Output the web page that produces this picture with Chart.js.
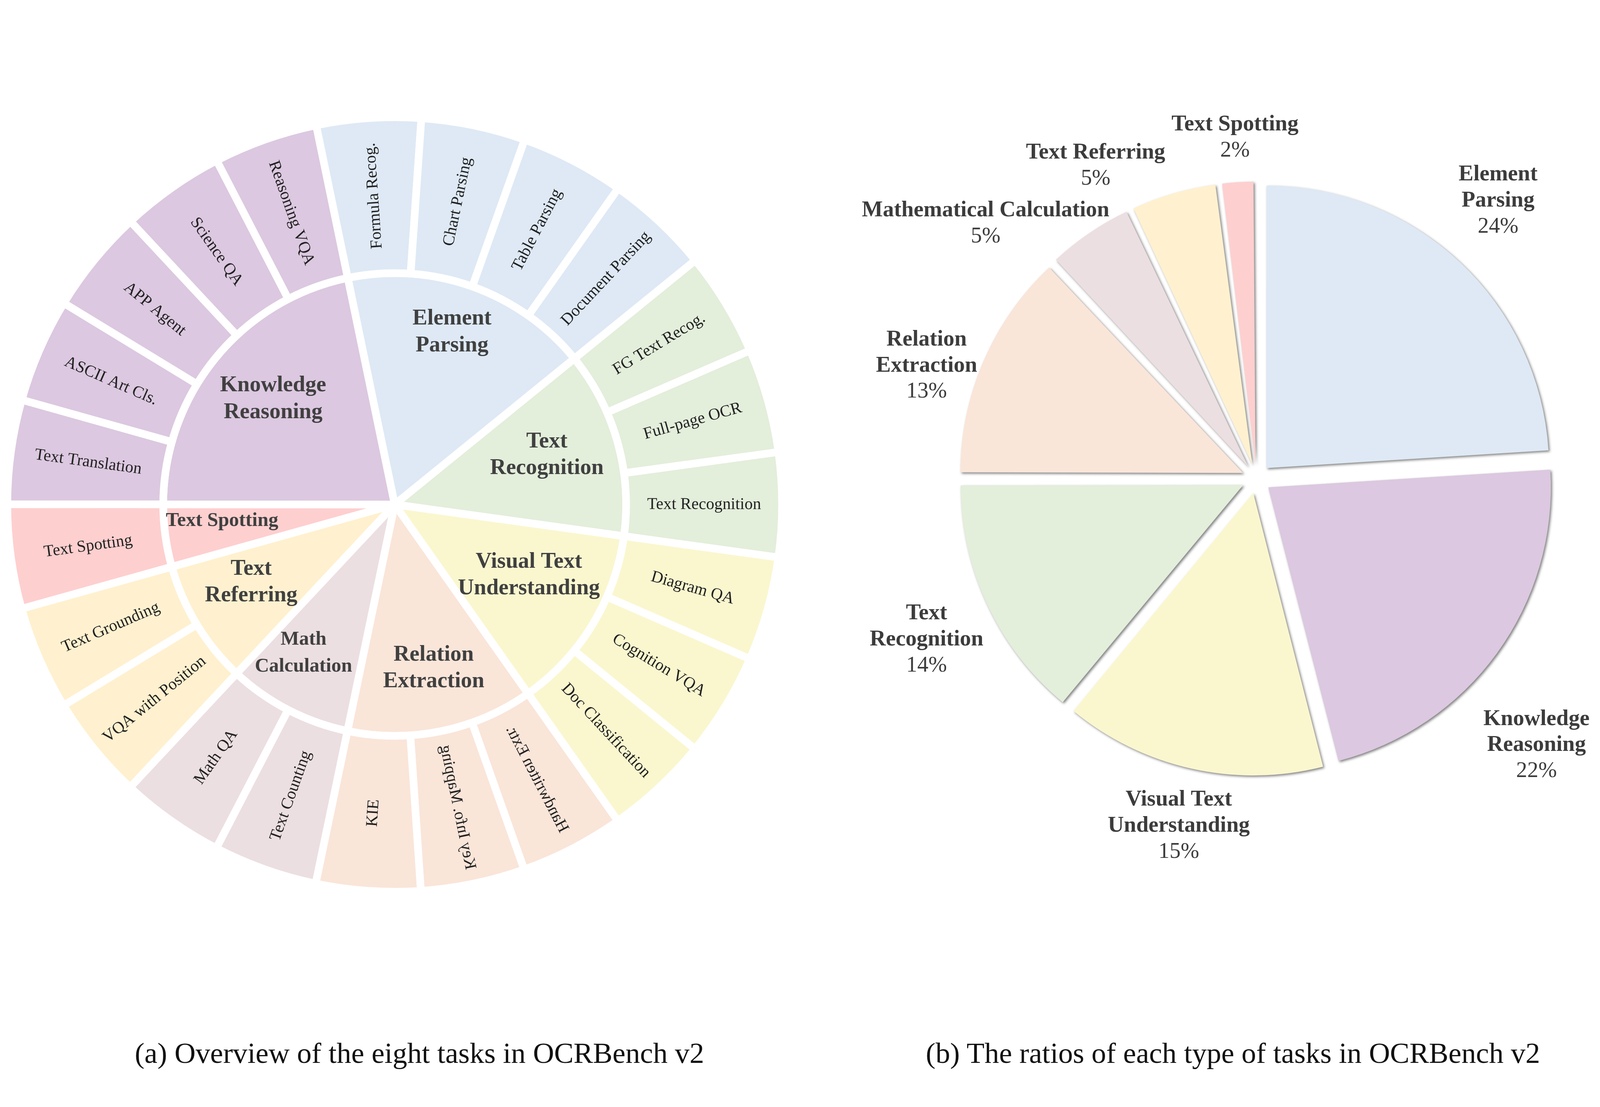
<!DOCTYPE html>
<html>
<head>
<meta charset="utf-8">
<script src="https://cdn.jsdelivr.net/npm/chart.js@4.4.1/dist/chart.umd.min.js"></script>
<style>
  html, body { margin: 0; padding: 0; background: #fff; overflow: hidden; }
  canvas { position: absolute; left: 0; top: 0; }
  .caption {
    position: absolute; line-height: 1;
    font-family: 'Liberation Serif', 'Times New Roman', serif;
    color: #111; white-space: nowrap; transform: translateX(-50%);
  }
</style>
</head>
<body>
<canvas id="sunburst"></canvas>
<canvas id="ratios"></canvas>
<div class="caption" id="capA">(a) Overview of the eight tasks in OCRBench v2</div>
<div class="caption" id="capB">(b) The ratios of each type of tasks in OCRBench v2</div>
<script>
// (a) sunburst: eight tasks, inner ring, and their subtasks, outer ring
const taskLabels = [['Element', 'Parsing'], ['Text', 'Recognition'], ['Visual Text', 'Understanding'],
    ['Relation', 'Extraction'], ['Math', 'Calculation'], ['Text', 'Referring'], ['Text Spotting'],
    ['Knowledge', 'Reasoning']];
const taskValues = [4, 3, 3, 3, 2, 2, 1, 5];
const taskColors = ['#dee9f5', '#e3eedb', '#faf7cf', '#fae5d9', '#ecdfe1', '#fff1cf', '#fecfcf', '#dcc8e0'];

const subtaskLabels = ['Formula Recog.', 'Chart Parsing', 'Table Parsing', 'Document Parsing',
    'FG Text Recog.', 'Full-page OCR', 'Text Recognition',
    'Diagram QA', 'Cognition VQA', 'Doc Classification',
    'Handwritten Extr.', 'Key Info. Mapping', 'KIE',
    'Text Counting', 'Math QA',
    'VQA with Position', 'Text Grounding',
    'Text Spotting',
    'Text Translation', 'ASCII Art Cls.', 'APP Agent', 'Science QA', 'Reasoning VQA'];
const subtaskParent = [0, 0, 0, 0, 1, 1, 1, 2, 2, 2, 3, 3, 3, 4, 4, 5, 5, 6, 7, 7, 7, 7, 7];
const subtaskValues = [1, 1, 1, 1, 1, 1, 1, 1, 1, 1, 1, 1, 1, 1, 1, 1, 1, 1, 1, 1, 1, 1, 1];

// (b) pie: share of each task type
const ratioLabels = [['Element', 'Parsing'], ['Knowledge', 'Reasoning'], ['Visual Text', 'Understanding'],
    ['Text', 'Recognition'], ['Relation', 'Extraction'], ['Mathematical Calculation'],
    ['Text Referring'], ['Text Spotting']];
const ratioValues = [24, 22, 15, 14, 13, 5, 5, 2];
const ratioColors = ['#dee9f5', '#dcc8e0', '#faf7cf', '#e3eedb', '#fae5d9', '#ecdfe1', '#fff1cf', '#fecfcf'];

const SERIF = '"Liberation Serif", "Times New Roman", serif';
const DEG = Math.PI / 180;

// the figure was laid out on a 5039 x 2835 sheet, fit it into the window
const W = window.innerWidth;
const H = window.innerHeight;
const sx = W / 5039;
const sy = H / 2835;
const s = Math.min(sx, sy);

function centerPadding(cx, cy) {
    return {left: cx - 10, right: W - cx - 10, top: cy - 10, bottom: H - cy - 10};
}

const sunburstLabels = {
    id: 'sunburstLabels',
    afterDatasetsDraw(chart, args, opts) {
        let ctx = chart.ctx;
        ctx.save();
        ctx.textAlign = 'center';
        ctx.textBaseline = 'middle';

        // outer ring, text along the radius, flipped on the left side
        ctx.fillStyle = opts.outerColor;
        ctx.font = opts.outerFont * s + 'px ' + SERIF;
        chart.getDatasetMeta(0).data.forEach((arc, i) => {
            let a = (arc.startAngle + arc.endAngle) / 2;
            let r = (arc.innerRadius + arc.outerRadius) / 2;
            let deg = ((a / DEG + 90) % 360 + 360) % 360;
            let flip = deg > 145 && deg < 350;
            ctx.save();
            ctx.translate(arc.x + Math.cos(a) * r, arc.y + Math.sin(a) * r);
            ctx.rotate(flip ? a + Math.PI : a);
            if (opts.mirrored.includes(subtaskLabels[i])) {
                ctx.scale(1, -1);
            }
            ctx.fillText(subtaskLabels[i], 0, 0);
            ctx.restore();
        });

        // inner ring, bold and horizontal
        ctx.fillStyle = opts.innerColor;
        chart.getDatasetMeta(1).data.forEach((arc, i) => {
            let a = (arc.startAngle + arc.endAngle) / 2 + opts.innerNudge[i] * DEG;
            let r = opts.innerDist[i] * s;
            let x = arc.x + Math.cos(a) * r;
            let y = arc.y + Math.sin(a) * r;
            let lines = taskLabels[i];
            ctx.font = 'bold ' + opts.innerFont[i] * s + 'px ' + SERIF;
            for (let k = 0; k < lines.length; k++) {
                ctx.fillText(lines[k], x, y + (k - (lines.length - 1) / 2) * opts.lineHeight * s);
            }
        });
        ctx.restore();
    }
};

const pieShadow = {
    id: 'pieShadow',
    beforeDatasetsDraw(chart, args, opts) {
        // keep every exploded slice at the same radius
        chart.getDatasetMeta(0).data.forEach((arc) => {
            let circ = arc.endAngle - arc.startAngle;
            let off = (arc.options.offset || 0) / 4;
            let fix = 1 - Math.sin(Math.min(Math.PI, circ));
            arc.outerRadius = opts.radius * s - off * fix;
        });
        let ctx = chart.ctx;
        ctx.save();
        ctx.shadowColor = 'rgba(0, 0, 0, 0.5)';
        ctx.shadowBlur = 8 * s;
        ctx.shadowOffsetX = 4 * s;
        ctx.shadowOffsetY = 4 * s;
    },
    afterDatasetsDraw(chart) {
        chart.ctx.restore();
    }
};

const ratioLabelsPlugin = {
    id: 'ratioLabels',
    afterDatasetsDraw(chart, args, opts) {
        let ctx = chart.ctx;
        let total = ratioValues.reduce((sum, v) => sum + v, 0);
        let lh = opts.lineHeight * s;
        ctx.save();
        ctx.fillStyle = opts.color;
        ctx.textAlign = 'center';
        ctx.textBaseline = 'middle';
        chart.getDatasetMeta(0).data.forEach((arc, i) => {
            let a = (arc.startAngle + arc.endAngle) / 2 + opts.nudge[i] * DEG;
            let r = opts.dist[i] * s;
            let x = arc.x + Math.cos(a) * r;
            let y = arc.y + Math.sin(a) * r;
            let lines = ratioLabels[i];
            let y0 = y - lines.length * lh / 2;
            ctx.font = 'bold ' + opts.fontSize * s + 'px ' + SERIF;
            for (let k = 0; k < lines.length; k++) {
                ctx.fillText(lines[k], x, y0 + k * lh);
            }
            ctx.font = opts.fontSize * s + 'px ' + SERIF;
            ctx.fillText(Math.round(ratioValues[i] / total * 100) + '%', x, y0 + lines.length * lh);
        });
        ctx.restore();
    }
};

function draw() {
    for (let id of ['sunburst', 'ratios']) {
        let c = document.getElementById(id);
        c.width = W;
        c.height = H;
    }
    for (let [id, x] of [['capA', 1321], ['capB', 3883]]) {
        let el = document.getElementById(id);
        el.style.fontSize = 92 * s + 'px';
        el.style.left = x * sx + 'px';
        el.style.top = 2697 * sy - 46 * s + 'px';
    }

    new Chart(document.getElementById('sunburst'), {
        type: 'doughnut',
        data: {
            labels: subtaskLabels,
            datasets: [
                {
                    data: subtaskValues,
                    backgroundColor: subtaskParent.map((p) => taskColors[p]),
                    borderColor: '#ffffff',
                    borderWidth: 24 * s,
                    weight: 491,
                    clip: false,
                },
                {
                    data: taskValues,
                    backgroundColor: taskColors,
                    borderColor: '#ffffff',
                    borderWidth: 24 * s,
                    weight: 729,
                    clip: false,
                },
            ],
        },
        options: {
            responsive: false,
            animation: false,
            devicePixelRatio: 1,
            events: [],
            cutout: 0,
            radius: 1220 * s,
            rotation: -11.7,
            layout: {padding: centerPadding(1243 * sx, 1292 * sy)},
            plugins: {
                legend: {display: false},
                tooltip: {enabled: false},
                sunburstLabels: {
                    outerFont: 52,
                    outerColor: '#222222',
                    mirrored: ['Handwritten Extr.', 'Key Info. Mapping'],
                    innerColor: '#404040',
                    innerFont: [70, 70, 70, 70, 62, 70, 62, 70],
                    innerDist: [572, 504, 478, 530, 549, 514, 546, 507],
                    innerNudge: [-1.2, -2.4, -3.5, -1.7, 4.1, 2.8, 2.4, 1.8],
                    lineHeight: 84,
                },
            },
        },
        plugins: [sunburstLabels],
    });

    new Chart(document.getElementById('ratios'), {
        type: 'pie',
        data: {
            labels: ratioLabels,
            datasets: [{
                data: ratioValues,
                backgroundColor: ratioColors,
                borderWidth: 0,
                offset: 184 * s,
                clip: false,
            }],
        },
        options: {
            responsive: false,
            animation: false,
            devicePixelRatio: 1,
            events: [],
            radius: 890 * s,
            layout: {padding: centerPadding(3957 * sx, 1226 * sy)},
            plugins: {
                legend: {display: false},
                tooltip: {enabled: false},
                pieShadow: {radius: 890},
                ratioLabels: {
                    color: '#3c3c3c',
                    fontSize: 70,
                    lineHeight: 82,
                    dist: [1160, 1218, 1121, 1156, 1098, 1172, 1108, 1076],
                    nudge: [-2.2, 7.6, 0, -0.8, -4.5, -12.5, -11, 0],
                },
            },
        },
        plugins: [pieShadow, ratioLabelsPlugin],
    });
}

Promise.all([
    document.fonts.load('52px "Liberation Serif"'),
    document.fonts.load('bold 70px "Liberation Serif"'),
]).then(draw, draw);
</script>
</body>
</html>
